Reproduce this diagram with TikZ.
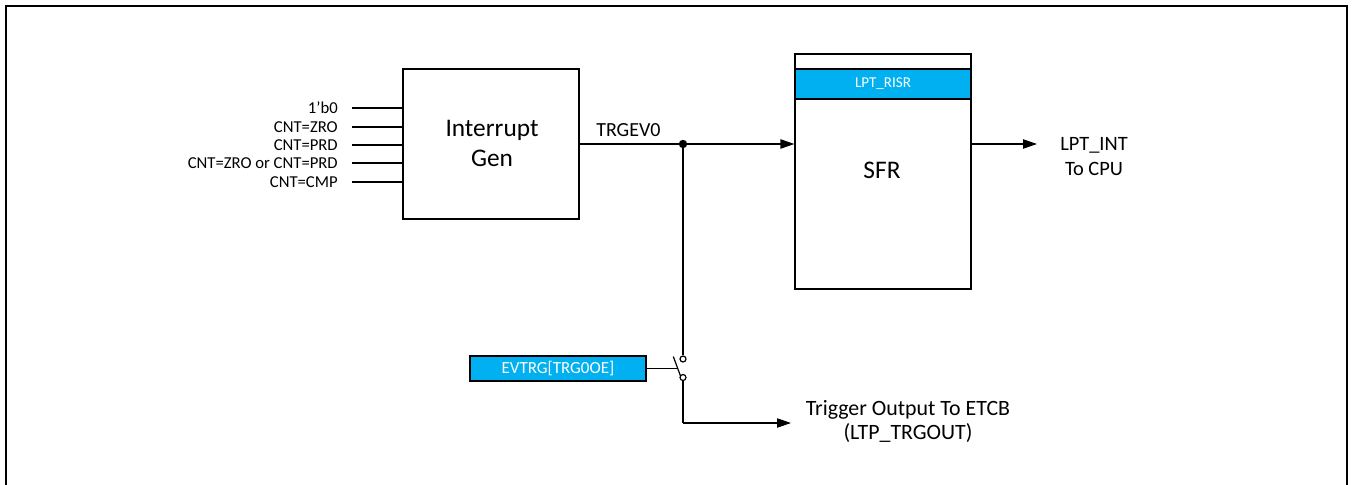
\documentclass[tikz,border=0pt]{standalone}
\usepackage{fontspec}
\setmainfont{Carlito}
\usetikzlibrary{arrows.meta,calc}
\definecolor{regcyan}{HTML}{00B0F0}
\tikzset{
  wire/.style={line width=0.9pt},
  arr/.style={wire,-{Triangle[length=10.5pt,width=7pt]}},
  blockbox/.style={draw,line width=0.9pt,fill=white,inner sep=0pt,minimum width=132pt},
  regbox/.style={draw,line width=0.9pt,fill=regcyan,text=white,inner sep=0pt,minimum width=132pt,font=\fontsize{12.5}{15}\selectfont},
  inlabel/.style={anchor=east,inner sep=0pt,font=\fontsize{12.5}{15}\selectfont},
  bigtext/.style={align=center,font=\fontsize{19}{22.5}\selectfont},
  contact/.style={draw,line width=0.9pt,fill=white,circle,inner sep=0pt,minimum size=4.5pt},
}
\begin{document}
\begin{tikzpicture}[x=0.75pt,y=-0.75pt]
\useasboundingbox (0,0) rectangle (1352,485);
% outer frame
\draw[line width=1.3pt] (6,520) -- (6,6) -- (1347,6) -- (1347,520);

% Interrupt Gen
\node[blockbox,minimum height=112.5pt] (gen) at (491,144) {};
\node[bigtext] (gentext) at (492,143) {Interrupt\\Gen};

% inputs
\foreach \i/\y/\t in {1/108/{1'b0},2/127/{CNT=ZRO},3/145/{CNT=PRD},4/163/{CNT=ZRO or CNT=PRD},5/182/{CNT=CMP}}{
  \node[inlabel] (lab\i) at (338,\y) {\t};
  \coordinate (in\i) at (352,\y);
  \draw[wire] (in\i) -- (in\i -| gen.west);
}

% SFR block
\node[blockbox,minimum height=176.25pt] (sfr) at (883,171.5) {};
\node[regbox,minimum height=22.5pt,font=\fontsize{11.3}{14}\selectfont] (risr) at (883,84) {LPT\_RISR};
\node[bigtext] (sfrtext) at (882,170) {SFR};

% TRGEV0
\coordinate (jn) at (683,144);
\node[anchor=base west,inner sep=0pt,font=\fontsize{15}{17}\selectfont] (trgev) at (596,136) {TRGEV0};
\draw[wire] (gen.east |- jn) -- (jn);
\draw[arr] (jn) -- (jn -| sfr.west);
\fill (jn) circle (4.2);

% output to CPU
\node[align=center,font=\fontsize{15.3}{18.75}\selectfont] (cpu) at (1094,157) {LPT\_INT\\To CPU};
\coordinate (cpuend) at (1037,144);
\draw[arr] (sfr.east |- cpuend) -- (cpuend);

% switch
\node[contact] (c1) at (683,359) {};
\node[contact] (c2) at (683,377.5) {};
\draw[wire] (jn) -- (c1.north);
\coordinate (bladetop) at (673.3,356.5);
\coordinate (bladebot) at (680.5,376);
\draw[wire] (bladetop) -- (bladebot);
\node[regbox,minimum height=18.75pt,font=\fontsize{12.75}{15}\selectfont] (evtrg) at (558,368.5) {EVTRG[TRG0OE]};
\coordinate (blademid) at (676.6,368.5);
\draw[wire] (evtrg.east) -- (blademid);

% trigger output
\coordinate (corner) at (683,423);
\coordinate (trgend) at (791,423);
\draw[wire] (c2.south) -- (corner);
\draw[arr] (corner) -- (trgend);
\node[align=center,font=\fontsize{16.4}{18}\selectfont] (trgtext) at (908,421) {Trigger Output To ETCB\\(LTP\_TRGOUT)};
\end{tikzpicture}
\end{document}
